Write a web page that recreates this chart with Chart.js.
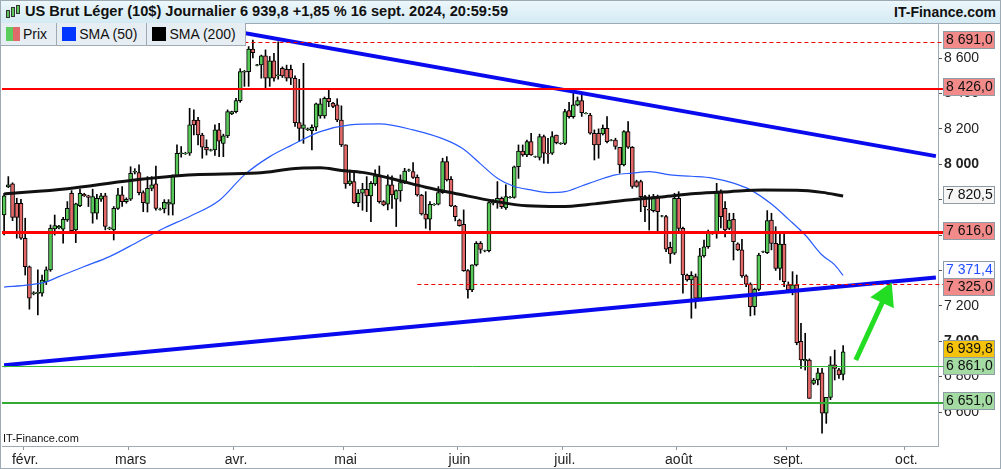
<!DOCTYPE html>
<html>
<head>
<meta charset="utf-8">
<script src="https://cdn.jsdelivr.net/npm/chart.js@4.4.1/dist/chart.umd.min.js"></script>
<style>
html, body { margin: 0; padding: 0; background: #fff; }
#wrap { position: relative; width: 1001px; height: 469px; overflow: hidden; font-family: "Liberation Sans", Arial, sans-serif; color: #111; }
#head { position: absolute; left: 0; top: 0; width: 999px; height: 22px; border: 1px solid #9eabb4; background: linear-gradient(#ecf7fb, #d4eaf3); }
#title { position: absolute; left: 24px; top: 2px; font-size: 14.6px; font-weight: bold; white-space: nowrap; }
#site { position: absolute; right: 4px; top: 3px; font-size: 14px; font-weight: bold; }
.ic { position: absolute; width: 2px; border: 1px solid #333; }
#legend { position: absolute; left: 0; top: 23px; height: 22px; border: 1px solid #9eabb4; border-top: none; background: #e7eef3; display: flex; font-size: 14px; z-index: 2; }
#legend div { position: relative; height: 22px; line-height: 22px; border-right: 1px solid #9eabb4; padding: 0 9px 0 22px; }
#legend div:last-child { border-right: none; }
#legend i { position: absolute; left: 5px; top: 4px; width: 14px; height: 14px; }
#chart { position: absolute; left: 0; top: 23px; }
#frame { position: absolute; left: 0; top: 0; width: 999px; height: 467px; border: 1px solid #9eabb4; pointer-events: none; }
#mark { position: absolute; left: 3px; top: 432px; font-size: 11px; color: #111; }
</style>
</head>
<body>
<div id="wrap">
  <canvas id="chart" width="1001" height="445"></canvas>
  <div id="head">
    <span class="ic" style="left:5px;top:9px;height:6px;background:#5cc85c"></span>
    <span class="ic" style="left:10px;top:6px;height:8px;background:#5cc85c"></span>
    <span class="ic" style="left:15px;top:4px;height:7px;background:#5cc85c"></span>
    <span id="title">US Brut Léger (10$) Journalier 6 939,8 +1,85 % 16 sept. 2024, 20:59:59</span>
    <span id="site">IT-Finance.com</span>
  </div>
  <div id="legend">
    <div><i style="background:linear-gradient(90deg,#5ccc5c 50%,#e06a6a 50%)"></i>Prix</div>
    <div><i style="background:#0036ff"></i>SMA (50)</div>
    <div><i style="background:#000"></i>SMA (200)</div>
  </div>
  <div id="mark">IT-Finance.com</div>
  <div id="frame"></div>
</div>
<script>
// Calendrier : séances du 26 janv. au 16 sept. 2024 (sans samedis ni Vendredi saint), puis jours futurs
const lastDay = "2024-09-16";
const holidays = ["2024-03-29"];
const monthStarts = ["2024-02-01", "2024-03-01", "2024-04-01", "2024-05-01", "2024-06-02", "2024-07-01", "2024-08-01", "2024-09-01", "2024-10-01"];
const monthLabels = ["févr.", "mars", "avr.", "mai", "juin", "juil.", "août", "sept.", "oct."];
const yTicks = [6600, 6800, 7000, 7200, 7400, 7600, 7800, 8000, 8200, 8400, 8600];

// Cours (ouverture, plus haut, plus bas, clôture)
const openP = [
  7713, 7872, 7889, 7779, 7779, 7582, 7421, 7268, 7270, 7271, 7337, 7403, 7634, 7640, 7633, 7685, 7836, 7629, 7766, 7830,
  7821, 7723, 7723, 7802, 7821, 7636, 7629, 7751, 7827, 7789, 7802, 7955, 7953, 7840, 7779, 7864, 7889, 7745, 7747, 7775,
  7775, 7936, 8060, 8060, 8062, 8250, 8250, 8165, 8096, 8078, 8081, 8194, 8118, 8160, 8284, 8297, 8359, 8520, 8523, 8650,
  8558, 8561, 8612, 8486, 8584, 8500, 8542, 8536, 8536, 8486, 8235, 8203, 8195, 8190, 8209, 8273, 8273, 8373, 8345, 8335,
  8250, 8109, 7889, 7902, 7783, 7836, 7858, 7821, 7889, 7939, 7789, 7775, 7883, 7802, 7849, 7896, 7965, 7958, 7926, 7826,
  7719, 7689, 7770, 7774, 7840, 8015, 7915, 7764, 7685, 7661, 7399, 7290, 7431, 7553, 7510, 7512, 7780, 7783, 7808, 7753,
  7811, 7813, 7986, 8075, 8052, 8128, 8041, 8039, 8156, 8062, 8062, 8165, 8116, 8118, 8303, 8269, 8335, 8359, 8286, 8278,
  8175, 8175, 8171, 8203, 8135, 8137, 8096, 7996, 8184, 8096, 7902, 7902, 7817, 7745, 7738, 7817, 7706, 7704, 7530, 7497,
  7808, 7638, 7374, 7346, 7365, 7243, 7482, 7534, 7608, 7610, 7840, 7751, 7638, 7689, 7550, 7516, 7369, 7323, 7195, 7293,
  7504, 7500, 7685, 7553, 7412, 7549, 7318, 7290, 7318, 6999, 6890, 6894, 6762, 6781, 6822, 6593, 6683, 6866, 6838, 6813
];
const highP = [
  7836, 7930, 7895, 7808, 7802, 7695, 7425, 7280, 7403, 7374, 7420, 7657, 7713, 7655, 7700, 7789, 7851, 7780, 7859, 7836,
  7825, 7859, 7830, 7836, 7836, 7645, 7761, 7864, 7874, 7810, 7986, 7975, 7996, 7850, 7930, 7930, 7990, 7752, 7800, 7800,
  7940, 8109, 8100, 8068, 8316, 8307, 8265, 8175, 8138, 8085, 8222, 8231, 8170, 8307, 8300, 8372, 8540, 8530, 8665, 8702,
  8565, 8617, 8646, 8609, 8627, 8691, 8550, 8560, 8560, 8500, 8480, 8570, 8205, 8222, 8345, 8370, 8380, 8429, 8350, 8370,
  8330, 8110, 7967, 7950, 7857, 7892, 7930, 7902, 7968, 7990, 7795, 7940, 7934, 7855, 7940, 7977, 7972, 8009, 7940, 7830,
  7845, 7789, 7778, 7874, 8034, 8043, 7930, 7768, 7690, 7742, 7405, 7431, 7563, 7563, 7515, 7789, 7800, 7902, 7815, 7883,
  7818, 7990, 8109, 8109, 8137, 8175, 8046, 8170, 8165, 8147, 8184, 8165, 8122, 8310, 8350, 8401, 8380, 8405, 8292, 8288,
  8194, 8200, 8222, 8269, 8140, 8147, 8096, 8190, 8241, 8100, 7910, 7910, 7825, 7826, 7830, 7826, 7712, 7712, 7560, 7836,
  7845, 7645, 7380, 7393, 7380, 7525, 7572, 7628, 7614, 7892, 7855, 7789, 7723, 7723, 7556, 7576, 7375, 7330, 7300, 7497,
  7510, 7738, 7723, 7647, 7619, 7610, 7335, 7393, 7374, 7101, 7045, 6900, 6790, 6847, 6847, 6683, 6913, 6950, 6847, 6975
];
const lowP = [
  7600, 7868, 7681, 7582, 7575, 7374, 7181, 7262, 7148, 7255, 7320, 7395, 7600, 7635, 7554, 7677, 7617, 7557, 7760, 7818,
  7761, 7667, 7690, 7790, 7629, 7630, 7572, 7745, 7761, 7780, 7795, 7945, 7826, 7732, 7730, 7850, 7740, 7740, 7725, 7713,
  7713, 7930, 8040, 8055, 8050, 8165, 8109, 8034, 8052, 8074, 8050, 8043, 8043, 8150, 8280, 8290, 8350, 8440, 8440, 8600,
  8555, 8486, 8429, 8440, 8470, 8480, 8490, 8470, 8450, 8213, 8128, 8118, 8190, 8081, 8190, 8260, 8260, 8325, 8320, 8240,
  8100, 7864, 7880, 7779, 7760, 7740, 7732, 7676, 7880, 7780, 7765, 7742, 7750, 7648, 7790, 7890, 7960, 7920, 7820, 7713,
  7638, 7628, 7768, 7770, 7835, 7905, 7760, 7680, 7650, 7395, 7243, 7280, 7425, 7497, 7505, 7505, 7770, 7751, 7750, 7745,
  7808, 7808, 7920, 8045, 8043, 8050, 8038, 8024, 8005, 8005, 8055, 8115, 8112, 8110, 8260, 8260, 8330, 8270, 8284, 8170,
  8024, 8034, 8165, 8120, 8132, 8085, 7949, 7990, 8090, 7864, 7870, 7732, 7676, 7628, 7730, 7610, 7702, 7506, 7440, 7490,
  7620, 7271, 7340, 7130, 7186, 7230, 7475, 7525, 7604, 7582, 7640, 7590, 7630, 7459, 7512, 7360, 7308, 7143, 7148, 7285,
  7500, 7495, 7516, 7400, 7346, 7308, 7290, 7262, 6980, 6847, 6837, 6677, 6755, 6753, 6480, 6536, 6670, 6781, 6790, 6781
];
const closeP = [
  7821, 7883, 7700, 7700, 7582, 7421, 7243, 7274, 7276, 7346, 7403, 7638, 7653, 7650, 7689, 7751, 7625, 7776, 7836, 7821,
  7813, 7817, 7808, 7821, 7648, 7640, 7751, 7827, 7789, 7802, 7949, 7960, 7840, 7783, 7864, 7883, 7751, 7747, 7785, 7785,
  7936, 8062, 8065, 8062, 8222, 8222, 8165, 8096, 8081, 8081, 8194, 8131, 8160, 8297, 8297, 8359, 8523, 8525, 8650, 8631,
  8561, 8612, 8486, 8584, 8486, 8505, 8499, 8486, 8486, 8235, 8203, 8222, 8200, 8209, 8341, 8341, 8373, 8354, 8326, 8250,
  8109, 7889, 7906, 7783, 7836, 7860, 7821, 7892, 7934, 7789, 7770, 7883, 7827, 7851, 7896, 7962, 7968, 7926, 7826, 7719,
  7689, 7774, 7773, 7840, 8015, 7911, 7764, 7704, 7653, 7399, 7290, 7431, 7553, 7519, 7512, 7783, 7785, 7808, 7760, 7817,
  7813, 7986, 8075, 8052, 8128, 8052, 8043, 8156, 8062, 8058, 8156, 8122, 8118, 8297, 8269, 8335, 8359, 8292, 8288, 8175,
  8109, 8109, 8203, 8128, 8137, 8100, 7996, 8184, 8096, 7874, 7874, 7817, 7760, 7740, 7817, 7732, 7708, 7520, 7493, 7808,
  7638, 7374, 7346, 7372, 7243, 7482, 7534, 7610, 7610.5, 7840, 7704, 7629, 7685, 7563, 7516, 7369, 7323, 7195, 7293, 7487,
  7506, 7681, 7553, 7412, 7549, 7337, 7290.5, 7318, 6992, 6894, 6897, 6677.5, 6781, 6822, 6593, 6683, 6866, 6847, 6809, 6939.8
];

// Moyennes mobiles : index de séance et valeur lue
const sma50Idx = [0, 6, 10, 13, 19, 25, 32, 38, 44, 51, 57, 63, 68, 75, 82, 89, 97, 105, 109, 113, 117, 121, 125, 129, 133, 137, 141, 145, 149, 153, 158, 163, 168, 173, 177, 182, 186, 190, 194, 197, 199];
const sma50Val = [7306, 7318, 7335, 7365, 7422, 7478, 7565, 7640, 7705, 7795, 7940, 8043, 8105, 8184, 8222, 8228, 8194, 8135, 8085, 8002, 7921, 7874, 7855, 7840, 7845, 7877, 7911, 7940, 7950, 7958, 7940, 7932, 7922, 7893, 7855, 7775, 7690, 7600, 7487, 7431, 7371.4];
const sma200Idx = [0, 15, 30, 45, 60, 70, 75, 80, 85, 92, 100, 108, 116, 124, 132, 140, 148, 156, 164, 172, 180, 188, 194, 199];
const sma200Val = [7832, 7862, 7908, 7940, 7950, 7978, 7980, 7965, 7954, 7918, 7870, 7830, 7792, 7765, 7761, 7776, 7798, 7815, 7834, 7845, 7854, 7853, 7841, 7820.5];

// Lignes tracées à la main : supports / résistances
const levelValues = [8691, 8426, 7616, 7325, 6861, 6651];
const levelColors = ["#ee0000", "#ff0000", "#ff0000", "#ee0000", "#33bb33", "#33aa33"];
const levelWidths = [1, 2, 3, 1, 1, 2];
const levelDashed = [true, false, false, true, false, false];
const levelStart = [57, null, null, 98, null, null];

// Droites de tendance et flèche (index de jour, valeur)
const upperTrendIdx = [45, 221];
const upperTrendVal = [8792, 8046];
const lowerTrendIdx = [0, 221];
const lowerTrendVal = [6864, 7360];
const arrowIdx = [202, 209];
const arrowVal = [6894, 7256];

// Étiquettes de l'axe de droite
const tagValues = [8691.0, 8426.0, 7820.5, 7616.0, 7371.4, 7325.0, 6939.8, 6861.0, 6651.0];
const tagFills = ["#f28a8a", "#f28a8a", "#f6f6f6", "#f28a8a", "#fbfbff", "#f28a8a", "#f5c20c", "#a3dba3", "#a3dba3"];
const tagText = ["#111", "#111", "#111", "#111", "#1f4dff", "#111", "#111", "#111", "#111"];

const FONT = "'Liberation Sans', Arial, sans-serif";

function buildDays() {
    const out = [];
    const d = new Date(Date.UTC(2024, 0, 26));
    const stop = new Date(Date.UTC(2024, 9, 8));
    while (d <= stop) {
        const iso = d.toISOString().slice(0, 10);
        if (iso > lastDay || (d.getUTCDay() !== 6 && !holidays.includes(iso))) out.push(iso);
        d.setUTCDate(d.getUTCDate() + 1);
    }
    return out;
}
const days = buildDays();

function fmt(v, dec) {
    const parts = v.toFixed(dec).split(".");
    const int = parts[0].replace(/\B(?=(\d{3})+(?!\d))/g, " ");
    return parts.length > 1 ? int + "," + parts[1] : int;
}

const pts = (idx, vals) => idx.map((k, j) => ({ x: days[k], y: vals[j] }));

const wicks = highP.map((h, i) => [lowP[i], h]);
const bodies = openP.map((o, i) => [o, closeP[i]]);
const bodyColors = openP.map((o, i) => closeP[i] >= o ? "#58c858" : "#e36868");

// Lignes horizontales
const levelPlugin = {
    id: "levels",
    afterDatasetsDraw(chart) {
        const { ctx, chartArea } = chart;
        const y = chart.scales.y, x = chart.scales.x;
        ctx.save();
        levelValues.forEach((v, k) => {
            const py = Math.round(y.getPixelForValue(v)) + (levelWidths[k] % 2 ? 0.5 : 0);
            const x0 = levelStart[k] === null ? chartArea.left : x.getPixelForValue(levelStart[k]);
            ctx.strokeStyle = levelColors[k];
            ctx.lineWidth = levelWidths[k];
            ctx.setLineDash(levelDashed[k] ? [4, 3] : []);
            ctx.beginPath();
            ctx.moveTo(x0, py);
            ctx.lineTo(chartArea.right + 5, py);
            ctx.stroke();
        });
        ctx.restore();
    }
};

// Étiquettes colorées sur l'axe
const tagPlugin = {
    id: "tags",
    afterDraw(chart) {
        const { ctx } = chart;
        const y = chart.scales.y;
        const c = tagValues.map(v => y.getPixelForValue(v) - 2);
        for (let k = 1; k < c.length; k++) {
            if (c[k] - c[k - 1] < 17) {
                const mid = (c[k] + c[k - 1]) / 2;
                c[k - 1] = mid - 8.5;
                c[k] = mid + 8.5;
            }
        }
        ctx.save();
        ctx.font = "14px " + FONT;
        ctx.textBaseline = "middle";
        tagValues.forEach((v, k) => {
            const top = Math.round(c[k] - 8.5) + 0.5;
            ctx.fillStyle = tagFills[k];
            ctx.fillRect(943.5, top, 51, 17);
            ctx.strokeStyle = "#8e9ca6";
            ctx.lineWidth = 1;
            ctx.strokeRect(943.5, top, 51, 17);
            ctx.fillStyle = tagText[k];
            ctx.fillText(fmt(v, 1), 946, top + 9);
        });
        ctx.restore();
    }
};

new Chart(document.getElementById("chart"), {
    type: "bar",
    data: {
        labels: days,
        datasets: [
            {
                type: "line", data: pts(arrowIdx, arrowVal), borderColor: "#22dd22", backgroundColor: "#22dd22",
                borderWidth: 5, pointRadius: [0, 10], pointStyle: "triangle", pointRotation: 25, order: 0
            },
            { type: "line", data: pts(upperTrendIdx, upperTrendVal), borderColor: "#0a0aee", borderWidth: 4, pointRadius: 0, order: 1 },
            { type: "line", data: pts(lowerTrendIdx, lowerTrendVal), borderColor: "#0a0aee", borderWidth: 4, pointRadius: 0, order: 1 },
            {
                type: "line", data: pts(sma200Idx, sma200Val), borderColor: "#111", borderWidth: 3, pointRadius: 0,
                cubicInterpolationMode: "monotone", spanGaps: true, order: 2
            },
            {
                type: "line", data: pts(sma50Idx, sma50Val), borderColor: "#2a5cff", borderWidth: 1.2, pointRadius: 0,
                cubicInterpolationMode: "monotone", spanGaps: true, order: 3
            },
            {
                data: bodies, backgroundColor: bodyColors, borderColor: "#000", borderWidth: 1,
                borderSkipped: false, barThickness: 4, grouped: false, order: 4
            },
            { data: wicks, backgroundColor: "#000", barThickness: 1, grouped: false, order: 5 }
        ]
    },
    options: {
        responsive: false,
        animation: false,
        events: [],
        layout: { autoPadding: false, padding: { left: 2, right: 0, top: 0, bottom: 0 } },
        plugins: { legend: { display: false }, tooltip: { enabled: false } },
        scales: {
            x: {
                offset: true,
                border: { color: "#9eabb4" },
                grid: {
                    drawOnChartArea: false, tickLength: 4,
                    tickColor: ctx => monthStarts.includes(days[ctx.index]) ? "#8c9aa4" : "rgba(0,0,0,0)"
                },
                ticks: {
                    autoSkip: false, maxRotation: 0, minRotation: 0, padding: 2, color: "#222",
                    font: { family: FONT, size: 14 },
                    callback: (v, i) => {
                        const k = monthStarts.indexOf(days[i]);
                        return k >= 0 ? monthLabels[k] : "";
                    }
                },
                afterFit: s => { s.height = 22; s.paddingLeft = 0; s.paddingRight = 0; }
            },
            y: {
                position: "right",
                min: 6408,
                max: 8798,
                border: { color: "#9eabb4" },
                grid: { drawOnChartArea: false, tickLength: 4, color: "#555" },
                ticks: {
                    padding: 2, color: "#222",
                    font: ctx => ({ family: FONT, size: 14, weight: ctx.tick && ctx.tick.value % 1000 === 0 ? "bold" : "normal" }),
                    callback: v => fmt(v, 0)
                },
                afterBuildTicks: s => { s.ticks = yTicks.map(v => ({ value: v })); },
                afterFit: s => { s.width = 63; s.paddingTop = 0; s.paddingBottom = 0; }
            }
        }
    },
    plugins: [levelPlugin, tagPlugin]
});
</script>
</body>
</html>
